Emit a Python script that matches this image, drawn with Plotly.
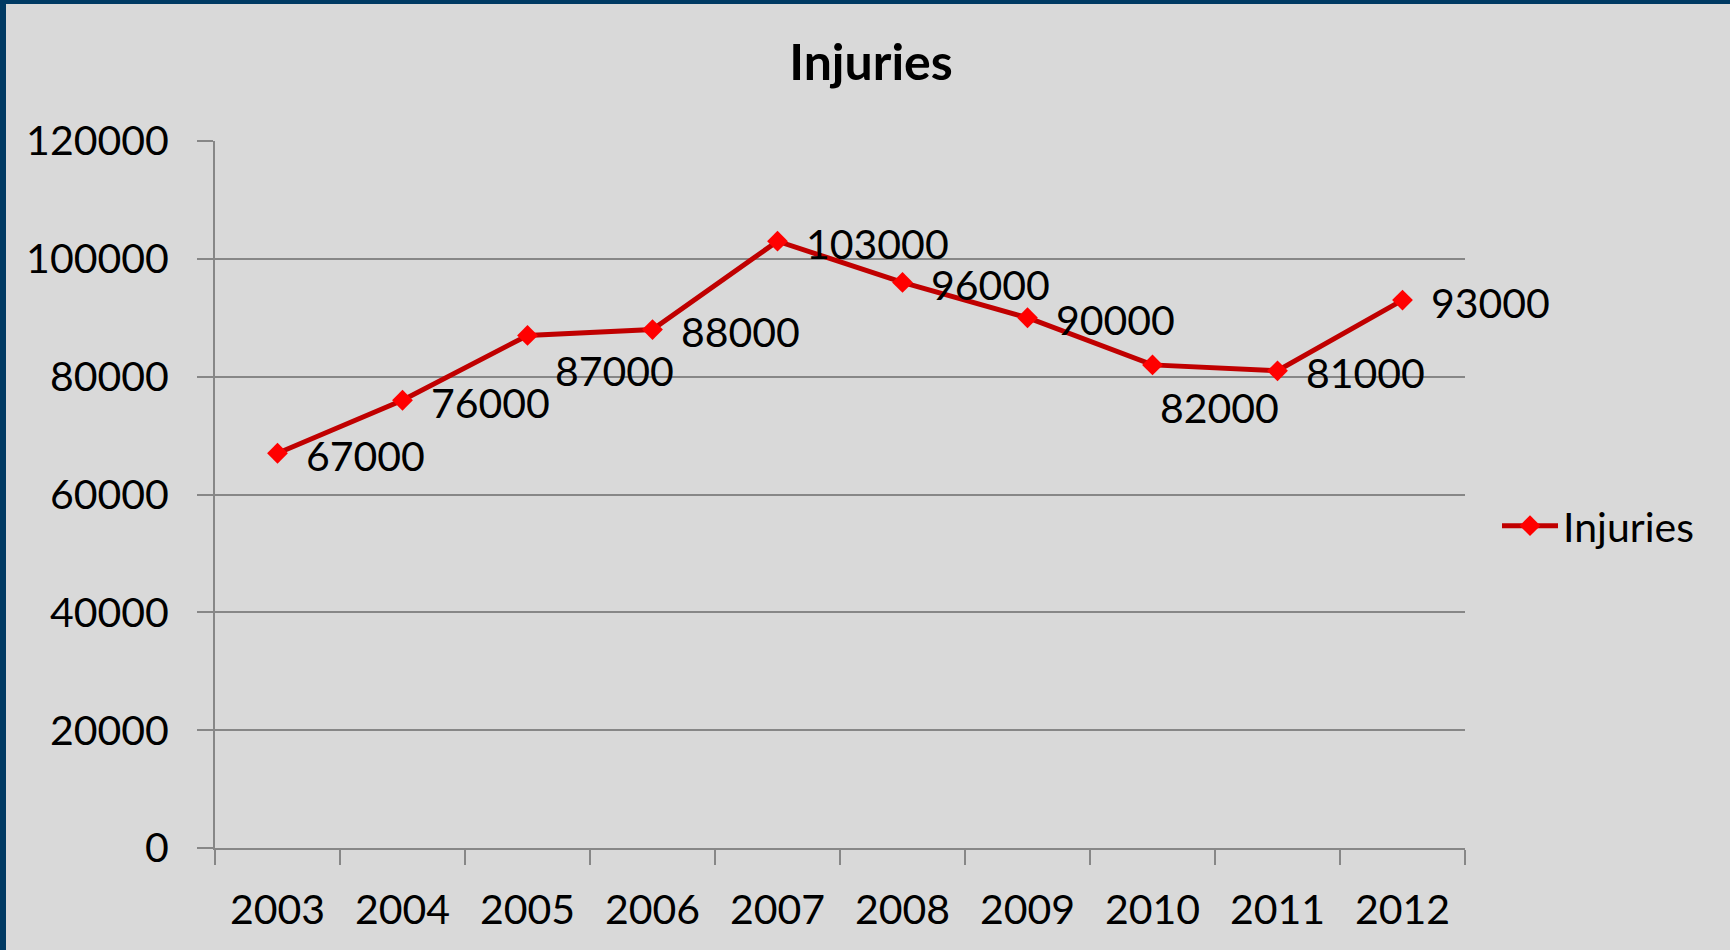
import plotly.graph_objects as go

years = ["2003", "2004", "2005", "2006", "2007", "2008", "2009", "2010", "2011", "2012"]
injuries = [67000, 76000, 87000, 88000, 103000, 96000, 90000, 82000, 81000, 93000]
y_ticks = [0, 20000, 40000, 60000, 80000, 100000, 120000]
series_name = "Injuries"
chart_title = "Injuries"

W, H = 1730, 950
ML, MR, MT, MB = 215, 265, 141, 102
PW, PH = W - ML - MR, H - MT - MB

FONT = "Lato, 'Open Sans', sans-serif"
GRID = "#878787"
BG = "#d9d9d9"
BORDER = "#003a63"

fig = go.Figure()
fig.add_trace(go.Scatter(
    x=years, y=injuries, mode="lines+markers", name=series_name,
    line=dict(color="#c00000", width=5),
    marker=dict(symbol="diamond", size=16, color="#ff0000", line=dict(width=0)),
))

# data labels (Excel-style offsets); x given as category index
offsets = {87000: (25, -35), 82000: (5, -43)}
for i, v in enumerate(injuries):
    dx, dy = offsets.get(v, (26, -2))
    fig.add_annotation(
        x=i, y=v, xref="x", yref="y", text=str(v), showarrow=False,
        xanchor="left", yanchor="middle", xshift=dx, yshift=dy,
        font=dict(family=FONT, size=41, color="#000000"),
    )

# border strips (top and left)
fig.add_shape(type="rect", xref="paper", yref="paper",
              x0=-ML / PW, x1=(W - ML) / PW, y0=(H - MB - 4) / PH, y1=(H - MB) / PH,
              fillcolor=BORDER, line=dict(width=0), layer="above")
fig.add_shape(type="rect", xref="paper", yref="paper",
              x0=-ML / PW, x1=(-ML + 6) / PW, y0=-MB / PH, y1=(H - MB) / PH,
              fillcolor=BORDER, line=dict(width=0), layer="above")

fig.update_layout(
    width=W, height=H,
    margin=dict(l=ML, r=MR, t=MT, b=MB, pad=0, autoexpand=False),
    paper_bgcolor=BG, plot_bgcolor=BG,
    font=dict(family=FONT, size=41, color="#000000"),
    title=dict(text="<b>" + chart_title + "</b>", x=871 / W, xanchor="center",
               y=1 - 62 / H, yanchor="middle", yref="container",
               font=dict(family=FONT, size=50, color="#000000")),
    showlegend=True,
    legend=dict(x=(1497 - ML) / PW, y=(H - MB - 526) / PH, xanchor="left", yanchor="middle",
                bgcolor="rgba(0,0,0,0)", font=dict(family=FONT, size=41, color="#000000"),
                itemwidth=56),
    xaxis=dict(
        type="category", range=[-0.5, len(years) - 0.5], autorange=False,
        showgrid=False, showline=True, linecolor=GRID, linewidth=2,
        ticks="outside", tickson="boundaries", ticklen=15, tickwidth=2, tickcolor=GRID,
        tickfont=dict(family=FONT, size=41, color="#000000"), zeroline=False,
        tickangle=0, ticklabelstandoff=25, automargin=False,
    ),
    yaxis=dict(
        range=[0, 120000], autorange=False, tickvals=y_ticks, ticktext=[str(t) for t in y_ticks],
        showgrid=True, gridcolor=GRID, gridwidth=1.5,
        showline=True, linecolor=GRID, linewidth=2, zeroline=False,
        ticks="outside", ticklen=16, tickwidth=2, tickcolor=GRID,
        tickfont=dict(family=FONT, size=41, color="#000000"),
        ticklabelstandoff=20, automargin=False,
    ),
)

fig.write_html(
    "out.html",
    config={"displayModeBar": False},
    post_script="document.body.style.margin='0';document.body.style.overflow='hidden';",
)
